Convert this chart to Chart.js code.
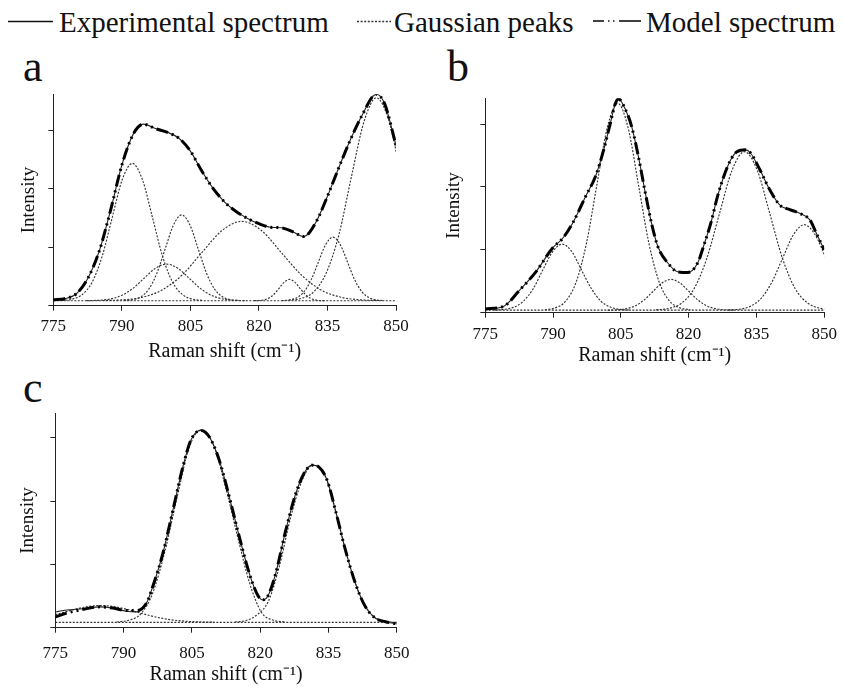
<!DOCTYPE html>
<html><head><meta charset="utf-8">
<script src="https://cdn.jsdelivr.net/npm/chart.js@4.4.1/dist/chart.umd.min.js"></script>
<style>
html,body{margin:0;padding:0;background:#fff;}
body{width:844px;height:688px;position:relative;overflow:hidden;font-family:"Liberation Serif","Times New Roman",serif;color:#111;}
canvas{position:absolute;}
.lg{position:absolute;font-size:29px;line-height:29px;white-space:nowrap;}
.pl{position:absolute;font-size:44px;line-height:44px;}
</style></head>
<body>
<svg width="844" height="45" style="position:absolute;left:0;top:0">
 <line x1="8" y1="21.5" x2="53" y2="21.5" stroke="#111" stroke-width="1.4"/>
 <line x1="357" y1="21.5" x2="391" y2="21.5" stroke="#333" stroke-width="1.3" stroke-dasharray="2,1.6"/>
 <line x1="593" y1="21" x2="604" y2="21" stroke="#111" stroke-width="1.6"/>
 <line x1="608" y1="21" x2="609.5" y2="21" stroke="#111" stroke-width="1.6"/>
 <line x1="613" y1="21" x2="614.5" y2="21" stroke="#111" stroke-width="1.6"/>
 <line x1="619" y1="21" x2="641" y2="21" stroke="#111" stroke-width="1.6"/>
</svg>
<div class="lg" style="left:59px;top:8px">Experimental spectrum</div>
<div class="lg" style="left:394px;top:8px">Gaussian peaks</div>
<div class="lg" style="left:646px;top:8px">Model spectrum</div>
<div class="pl" style="left:23px;top:45px">a</div>
<div class="pl" style="left:447px;top:45px">b</div>
<div class="pl" style="left:23px;top:366px">c</div>
<canvas id="ca" width="420" height="320" style="left:0;top:50px"></canvas>
<canvas id="cb" width="424" height="330" style="left:420px;top:50px"></canvas>
<canvas id="cc" width="420" height="318" style="left:0;top:370px"></canvas>
<script>
// ---- shared axis ticks ----
const xTicks = [775, 790, 805, 820, 835, 850];
const yTicks = [0, 1, 2, 3];
const xTitle = 'Raman shift (cm\u207B\u00B9)';
const yTitle = 'Intensity';

// ---- Panel a ----
const aModelX = [775, 777.5, 780, 782.5, 785, 787.5, 790, 792.5, 794.7, 797.5, 800, 802.5, 805, 807.5, 810, 812.5, 815, 817.5, 820, 822.5, 825, 827.5, 829.8, 832.5, 835, 837.5, 840, 842.5, 845.7, 847.5, 850];
const aModelY = [0.10, 0.12, 0.20, 0.46, 0.92, 1.62, 2.40, 2.93, 3.10, 3.02, 2.96, 2.86, 2.64, 2.30, 2.00, 1.77, 1.61, 1.49, 1.40, 1.34, 1.33, 1.26, 1.18, 1.43, 1.87, 2.36, 2.83, 3.24, 3.61, 3.45, 2.74];
const aExpY   = [0.10, 0.12, 0.20, 0.46, 0.92, 1.62, 2.40, 2.93, 3.10, 3.02, 2.96, 2.86, 2.64, 2.30, 2.00, 1.77, 1.61, 1.49, 1.40, 1.34, 1.33, 1.26, 1.18, 1.43, 1.87, 2.36, 2.83, 3.24, 3.61, 3.45, 2.74];
const aBase = [0.085, 0.085];
const aG1X = [776.9, 779.1, 781.3, 783.5, 785.7, 787.9, 790.1, 792.3, 794.5, 796.7, 798.9, 801.1, 803.3, 805.5, 807.7];
const aG1Y = [0.09, 0.111, 0.188, 0.402, 0.846, 1.507, 2.154, 2.43, 2.154, 1.507, 0.846, 0.402, 0.188, 0.111, 0.09];
const aG2X = [782.3, 784.8, 787.3, 789.8, 792.3, 794.8, 797.3, 799.8, 802.3, 804.8, 807.3, 809.8, 812.3, 814.8, 817.3];
const aG2Y = [0.086, 0.092, 0.112, 0.17, 0.288, 0.464, 0.637, 0.71, 0.637, 0.464, 0.288, 0.17, 0.112, 0.092, 0.086];
const aG3X = [790.5, 792.3, 794.1, 795.9, 797.7, 799.5, 801.3, 803.1, 804.9, 806.7, 808.5, 810.3, 812.1, 813.9, 815.7];
const aG3Y = [0.088, 0.101, 0.149, 0.283, 0.561, 0.974, 1.378, 1.55, 1.378, 0.974, 0.561, 0.283, 0.149, 0.101, 0.088];
const aG4X = [785.8, 790.1, 794.5, 798.8, 803.2, 807.5, 811.9, 816.2, 820.6, 824.9, 829.3, 833.6, 838.0, 842.3, 846.7];
const aG4Y = [0.088, 0.1, 0.144, 0.268, 0.525, 0.907, 1.281, 1.44, 1.281, 0.907, 0.525, 0.268, 0.144, 0.1, 0.088];
const aG5X = [819.0, 820.1, 821.2, 822.3, 823.4, 824.5, 825.6, 826.7, 827.8, 828.9, 830.0, 831.1, 832.2, 833.3, 834.4];
const aG5Y = [0.086, 0.089, 0.101, 0.134, 0.204, 0.306, 0.407, 0.45, 0.407, 0.306, 0.204, 0.134, 0.101, 0.089, 0.086];
const aG6X = [825.0, 826.6, 828.2, 829.8, 831.4, 833.0, 834.6, 836.2, 837.8, 839.4, 841.0, 842.6, 844.2, 845.8, 847.4];
const aG6Y = [0.087, 0.097, 0.133, 0.232, 0.437, 0.743, 1.043, 1.17, 1.043, 0.743, 0.437, 0.232, 0.133, 0.097, 0.087];
const aG7X = [826.5, 829.2, 832.0, 834.7, 837.5, 840.2, 843.0, 845.7, 848.5, 851.2, 854.0];
const aG7Y = [0.093, 0.123, 0.237, 0.554, 1.21, 2.187, 3.143, 3.55, 3.143, 2.187, 1.21];

// ---- Panel b ----
const bModelX = [775, 779, 782.6, 786.2, 789.9, 792.1, 794.3, 797.2, 799.4, 801.2, 802.7, 803.8, 804.5, 805.9, 807.4, 808.9, 810.3, 811.8, 813.2, 815.4, 817.6, 819.8, 822, 823.5, 824.9, 826.4, 827.8, 829.3, 830.7, 832.6, 833.7, 835.8, 838, 840.2, 842.4, 844.6, 846.8, 848.3, 850];
const bModelY = [0.06, 0.10, 0.36, 0.65, 1.03, 1.18, 1.42, 1.85, 2.17, 2.59, 3.02, 3.33, 3.40, 3.25, 2.96, 2.48, 1.95, 1.42, 1.05, 0.79, 0.65, 0.64, 0.79, 1.10, 1.42, 1.85, 2.17, 2.43, 2.56, 2.59, 2.54, 2.27, 1.95, 1.71, 1.64, 1.58, 1.48, 1.26, 1.00];
const bExpY   = [0.06, 0.10, 0.36, 0.65, 1.03, 1.18, 1.42, 1.85, 2.17, 2.59, 3.02, 3.33, 3.40, 3.25, 2.96, 2.48, 1.95, 1.42, 1.05, 0.79, 0.65, 0.64, 0.79, 1.10, 1.42, 1.85, 2.17, 2.43, 2.56, 2.59, 2.54, 2.27, 1.95, 1.71, 1.64, 1.58, 1.48, 1.26, 1.00];
const bBase = [0.04, 0.04];
const bG1X = [777.0, 779.1, 781.3, 783.4, 785.6, 787.7, 789.9, 792.0, 794.2, 796.3, 798.5, 800.6, 802.8, 804.9, 807.1];
const bG1Y = [0.042, 0.052, 0.086, 0.182, 0.381, 0.677, 0.967, 1.09, 0.967, 0.677, 0.381, 0.182, 0.086, 0.052, 0.042];
const bG2X = [788.2, 790.5, 792.8, 795.1, 797.4, 799.7, 802.0, 804.3, 806.6, 808.9, 811.2, 813.5, 815.8, 818.1, 820.4];
const bG2Y = [0.047, 0.077, 0.184, 0.485, 1.108, 2.035, 2.943, 3.33, 2.943, 2.035, 1.108, 0.485, 0.184, 0.077, 0.047];
const bG3X = [802.1, 804.1, 806.1, 808.1, 810.1, 812.1, 814.1, 816.1, 818.1, 820.1, 822.1, 824.1, 826.1, 828.1, 830.1];
const bG3Y = [0.041, 0.045, 0.062, 0.106, 0.199, 0.337, 0.472, 0.53, 0.472, 0.337, 0.199, 0.106, 0.062, 0.045, 0.041];
const bG4X = [812.8, 815.6, 818.4, 821.2, 824.0, 826.8, 829.6, 832.4, 835.2, 838.0, 840.8, 843.6, 846.4, 849.2, 852.0];
const bG4Y = [0.046, 0.068, 0.151, 0.381, 0.858, 1.568, 2.264, 2.56, 2.264, 1.568, 0.858, 0.381, 0.151, 0.068, 0.046];
const bG5X = [828.8, 831.2, 833.6, 836.0, 838.4, 840.8, 843.2, 845.6, 848.0, 850.4, 852.8];
const bG5Y = [0.043, 0.055, 0.1, 0.224, 0.482, 0.865, 1.24, 1.4, 1.24, 0.865, 0.482];

// ---- Panel c ----
const cModelX = [775, 777.5, 781.1, 784.8, 787.7, 790.6, 793, 795, 796.4, 798.6, 800.8, 803, 804.8, 807, 808.8, 811, 813.2, 815.4, 817.6, 819.4, 820.5, 821.6, 823.4, 825.6, 827.8, 829.6, 831.4, 832.9, 834.7, 836.5, 838.7, 840.9, 843.1, 845.3, 847.5, 850];
const cModelY = [0.17, 0.23, 0.29, 0.33, 0.31, 0.27, 0.27, 0.385, 0.65, 1.17, 1.85, 2.54, 2.97, 3.12, 3.02, 2.65, 2.07, 1.44, 0.86, 0.52, 0.44, 0.49, 0.86, 1.54, 2.12, 2.44, 2.57, 2.54, 2.33, 1.86, 1.23, 0.70, 0.33, 0.15, 0.095, 0.06];
const cExpY   = [0.25, 0.28, 0.30, 0.33, 0.31, 0.26, 0.25, 0.385, 0.65, 1.17, 1.85, 2.54, 2.97, 3.12, 3.02, 2.65, 2.07, 1.44, 0.86, 0.52, 0.44, 0.49, 0.86, 1.54, 2.12, 2.44, 2.57, 2.54, 2.33, 1.86, 1.23, 0.70, 0.33, 0.15, 0.095, 0.06];
const cBase = [0.084, 0.084];
const cG1X = [788.5, 791.1, 793.8, 796.4, 799.1, 801.7, 804.4, 807.0, 809.7, 812.3, 815.0, 817.6, 820.3, 822.9, 825.6];
const cG1Y = [0.091, 0.118, 0.22, 0.55, 1.22, 2.05, 2.85, 3.13, 2.9, 2.25, 1.45, 0.72, 0.24, 0.118, 0.091];
const cG2X = [814.5, 816.9, 819.4, 821.8, 824.3, 826.7, 829.2, 831.6, 834.1, 836.5, 839.0, 841.4, 843.9, 846.3, 848.8];
const cG2Y = [0.09, 0.115, 0.21, 0.42, 1.0, 1.75, 2.33, 2.57, 2.42, 1.86, 1.15, 0.6, 0.25, 0.12, 0.09];
const cG3X = [775, 777, 779, 781, 783, 785, 787, 789, 791, 793, 795, 797, 799, 801, 805, 810];
const cG3Y = [0.206, 0.245, 0.285, 0.319, 0.342, 0.35, 0.342, 0.319, 0.285, 0.245, 0.206, 0.17, 0.141, 0.12, 0.096, 0.086];

const baseX = [775, 850];

Chart.defaults.font.family = '"Liberation Serif", "Times New Roman", serif';
Chart.defaults.color = '#111';

function pts(xs, ys) { return xs.map((x, i) => ({x: x, y: ys[i]})); }
function gaussDs(xs, ys) {
  return {data: pts(xs, ys), borderColor: '#333', borderWidth: 1.15, borderDash: [2, 1.5],
          pointRadius: 0, cubicInterpolationMode: 'monotone', fill: false};
}
function panel(id, p) {
  const datasets = [
    {data: pts(p.mx, p.my), borderColor: '#000', borderWidth: 3, borderDash: [12, 4, 2, 4, 2, 4],
     pointRadius: 0, cubicInterpolationMode: 'monotone', fill: false},
    {data: pts(p.ex, p.ey), borderColor: '#222', borderWidth: 1.1,
     pointRadius: 0, cubicInterpolationMode: 'monotone', fill: false}
  ];
  p.g.forEach(g => datasets.push(gaussDs(g[0], g[1])));
  datasets.push(gaussDs(baseX, p.base));
  new Chart(document.getElementById(id), {
    type: 'line',
    data: {datasets: datasets},
    options: {
      responsive: false, animation: false, devicePixelRatio: 1, events: [],
      layout: {padding: {left: 0, top: p.padTop, right: p.padRight, bottom: 0}},
      plugins: {legend: {display: false}, tooltip: {enabled: false}},
      scales: {
        x: {
          type: 'linear', min: 775, max: 850,
          afterBuildTicks: s => { s.ticks = xTicks.map(v => ({value: v})); },
          ticks: {padding: p.xTickPad, font: {size: 17}, color: '#111', maxRotation: 0, autoSkip: false},
          grid: {drawOnChartArea: false, drawTicks: true, tickLength: 5, color: '#222'},
          border: {color: '#222', width: 1},
          title: {display: true, text: xTitle, font: {size: 20}, color: '#111', padding: {top: 0, bottom: p.xTitlePad}},
          afterFit: s => { s.height = p.xH; }
        },
        y: {
          type: 'linear', min: 0, max: p.yMax,
          afterBuildTicks: s => { s.ticks = yTicks.map(v => ({value: v})); },
          ticks: {display: false},
          grid: {drawOnChartArea: false, drawTicks: true, tickLength: 5, color: '#222'},
          border: {color: '#222', width: 1},
          title: {display: true, text: yTitle, font: {size: 19}, color: '#111', padding: {top: p.yTitlePad, bottom: 0}},
          afterFit: s => { s.width = p.yW; }
        }
      }
    }
  });
}

panel('ca', {mx: aModelX, my: aModelY, ex: aModelX, ey: aExpY, base: aBase,
  g: [[aG1X, aG1Y], [aG2X, aG2Y], [aG3X, aG3Y], [aG4X, aG4Y], [aG5X, aG5Y], [aG6X, aG6Y], [aG7X, aG7Y]],
  padTop: 44.3, padRight: 24, yW: 53.3, xH: 64.3, yMax: 3.61, xTickPad: 5.8, xTitlePad: 6.3, yTitlePad: 18});
panel('cb', {mx: bModelX, my: bModelY, ex: bModelX, ey: bExpY, base: bBase,
  g: [[bG1X, bG1Y], [bG2X, bG2Y], [bG3X, bG3Y], [bG4X, bG4Y], [bG5X, bG5Y]],
  padTop: 48.3, padRight: 16, yW: 65.3, xH: 67.3, yMax: 3.41, xTickPad: 7.1, xTitlePad: 12, yTitlePad: 23});
panel('cc', {mx: cModelX, my: cModelY, ex: cModelX, ey: cExpY, base: cBase,
  g: [[cG1X, cG1Y], [cG2X, cG2Y], [cG3X, cG3Y]],
  padTop: 43.3, padRight: 22, yW: 55.3, xH: 60.3, yMax: 3.39, xTickPad: 10.4, xTitlePad: 1, yTitlePad: 16.6});
</script>
</body></html>
